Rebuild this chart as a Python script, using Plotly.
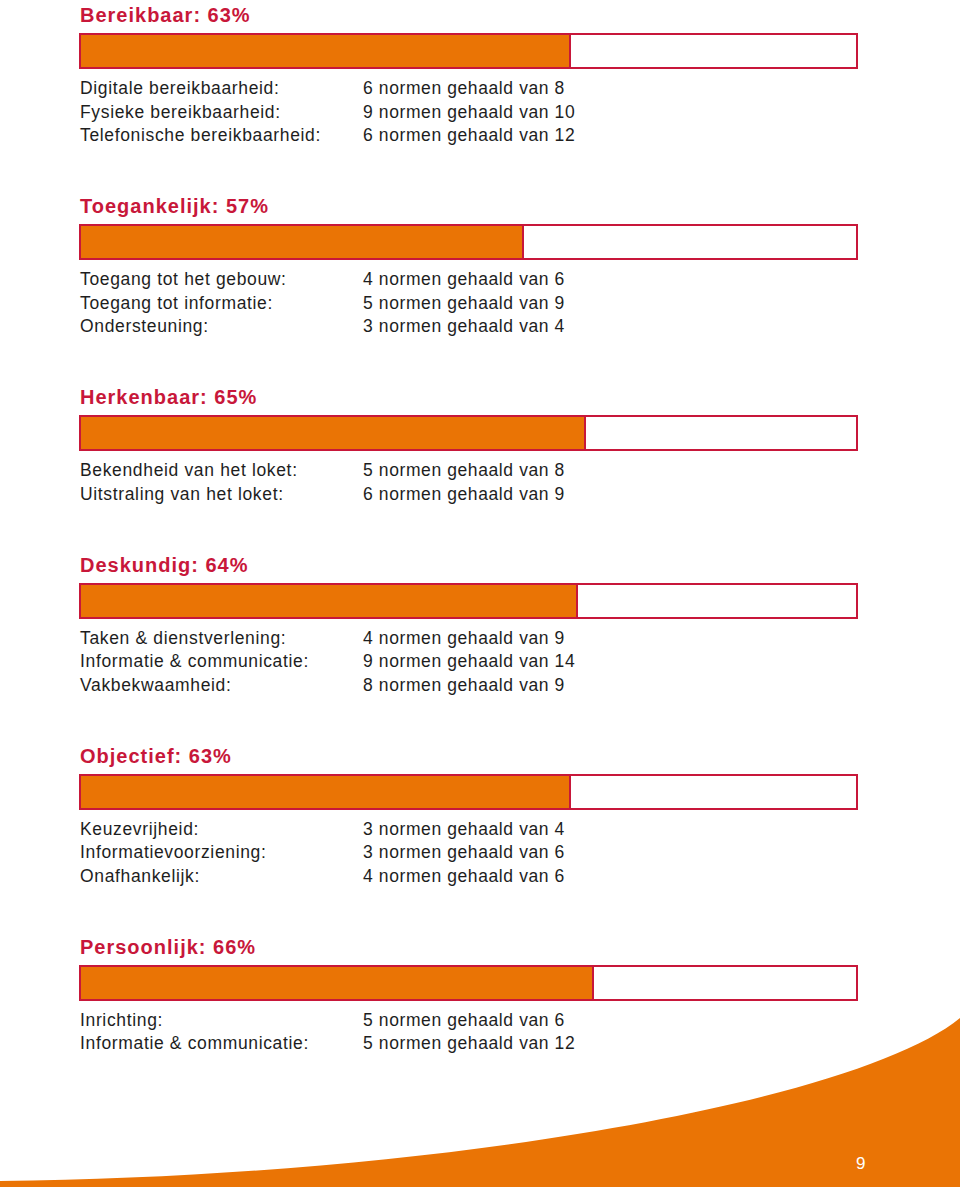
import plotly.graph_objects as go

# ---- data ----
section_names = ["Bereikbaar", "Toegankelijk", "Herkenbaar", "Deskundig", "Objectief", "Persoonlijk"]
section_pct = [63, 57, 65, 64, 63, 66]
item_labels = [
    ["Digitale bereikbaarheid:", "Fysieke bereikbaarheid:", "Telefonische bereikbaarheid:"],
    ["Toegang tot het gebouw:", "Toegang tot informatie:", "Ondersteuning:"],
    ["Bekendheid van het loket:", "Uitstraling van het loket:"],
    ["Taken & dienstverlening:", "Informatie & communicatie:", "Vakbekwaamheid:"],
    ["Keuzevrijheid:", "Informatievoorziening:", "Onafhankelijk:"],
    ["Inrichting:", "Informatie & communicatie:"],
]
item_met = [[6, 9, 6], [4, 5, 3], [5, 6], [4, 9, 8], [3, 3, 4], [5, 5]]
item_total = [[8, 10, 12], [6, 9, 4], [8, 9], [9, 14, 9], [4, 6, 6], [6, 12]]
page_number = "9"

# ---- style ----
W, H = 960, 1187
ORANGE = "#EA7405"
RED = "#C8173A"
TEXT = "#1e1e1e"
FONT = "Liberation Sans, Arial, sans-serif"
X0, X1 = 80, 857  # bar left/right in px
scale = (X1 - X0) / 100.0

def spaced(s, ls):
    return f'<span style="letter-spacing:{ls}px">{s}</span>'

# vertical layout
title_y, bar_y, line_y = [], [], []
y = 15.0
for labels in item_labels:
    title_y.append(y)
    bc = y + 36
    bar_y.append(bc)
    ly = [bc + 37 + 23.5 * i for i in range(len(labels))]
    line_y.append(ly)
    y = ly[-1] + 71

fig = go.Figure()

# filled part
fig.add_trace(go.Bar(
    orientation="h", y=bar_y, x=section_pct, base=[0] * len(section_pct),
    width=34, marker=dict(color=ORANGE, line=dict(color=RED, width=2)),
    hoverinfo="skip", showlegend=False,
))
# remainder
fig.add_trace(go.Bar(
    orientation="h", y=bar_y, x=[100 - p for p in section_pct], base=section_pct,
    width=34, marker=dict(color="white", line=dict(color=RED, width=2)),
    hoverinfo="skip", showlegend=False,
))

annotations = []
for i, name in enumerate(section_names):
    annotations.append(dict(
        xref="paper", yref="y", x=78 / W, y=title_y[i], xanchor="left", yanchor="middle",
        text=spaced(f"<b>{name}: {section_pct[i]}%</b>", 1.0), showarrow=False,
        font=dict(family=FONT, size=20, color=RED),
    ))
    for j, lab in enumerate(item_labels[i]):
        annotations.append(dict(
            xref="paper", yref="y", x=78 / W, y=line_y[i][j], xanchor="left", yanchor="middle",
            text=spaced(lab, 0.65), showarrow=False, font=dict(family=FONT, size=17.5, color=TEXT),
        ))
        annotations.append(dict(
            xref="paper", yref="y", x=361 / W, y=line_y[i][j], xanchor="left", yanchor="middle",
            text=spaced(f"{item_met[i][j]} normen gehaald van {item_total[i][j]}", 0.6), showarrow=False,
            font=dict(family=FONT, size=17.5, color=TEXT),
        ))

annotations.append(dict(
    xref="paper", yref="y", x=860 / W, y=1163, xanchor="center", yanchor="middle",
    text=page_number, showarrow=False, font=dict(family=FONT, size=17, color="white"),
))

def px(xp, yp):
    return f"{xp / W:.5f},{1 - yp / H:.5f}"

swoosh = (f"M {px(0, H)} L {px(0, 1181)} "
          f"C {px(450, 1176)} {px(860, 1100)} {px(960, 1018)} "
          f"L {px(960, H)} Z")

fig.update_layout(
    width=W, height=H, margin=dict(l=0, r=0, t=0, b=0),
    paper_bgcolor="white", plot_bgcolor="rgba(0,0,0,0)",
    barmode="overlay", bargap=0,
    xaxis=dict(range=[-X0 / scale, (W - X0) / scale], domain=[0, 1], visible=False, fixedrange=True),
    yaxis=dict(range=[H, 0], domain=[0, 1], visible=False, fixedrange=True),
    shapes=[dict(type="path", xref="paper", yref="paper", path=swoosh,
                 fillcolor=ORANGE, line=dict(width=0), layer="below")],
    annotations=annotations,
)

fig.write_html("out.html")
